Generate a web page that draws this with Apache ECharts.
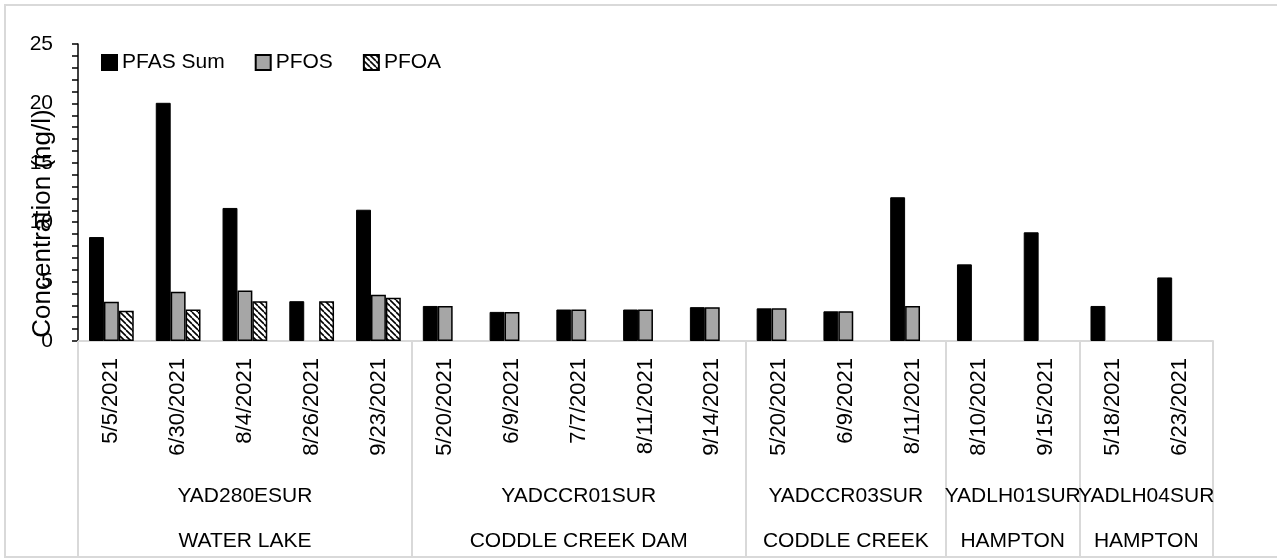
<!DOCTYPE html>
<html>
<head>
<meta charset="utf-8">
<script src="https://cdn.jsdelivr.net/npm/echarts@6/dist/echarts.min.js"></script>
<style>
  html, body { margin: 0; padding: 0; background: #fff; overflow: hidden; }
  #wrap { position: relative; width: 1277px; height: 558px; }
  #chart { position: absolute; left: 0; top: 0; width: 1277px; height: 558px; }
  #frame { position: absolute; left: 4px; top: 4px; width: 1300px; height: 550px; border: 2px solid #d9d9d9; pointer-events: none; }
</style>
</head>
<body>
<div id="wrap"><div id="chart"></div><div id="frame"></div></div>
<script>
// ---- data ----
const dates = ['5/5/2021','6/30/2021','8/4/2021','8/26/2021','9/23/2021',
               '5/20/2021','6/9/2021','7/7/2021','8/11/2021','9/14/2021',
               '5/20/2021','6/9/2021','8/11/2021',
               '8/10/2021','9/15/2021',
               '5/18/2021','6/23/2021'];
const sites = ['YAD280ESUR','YADCCR01SUR','YADCCR03SUR','YADLH01SUR','YADLH04SUR'];
const siteCounts = [5, 5, 3, 2, 2];
const locations = ['WATER LAKE','CODDLE CREEK DAM','CODDLE CREEK','HAMPTON','HAMPTON'];
const pfasSum = [8.75, 20.05, 11.2, 3.35, 11.05, 2.95, 2.45, 2.65, 2.65, 2.85, 2.75, 2.5, 12.1, 6.45, 9.15, 2.95, 5.35];
const pfos    = [3.3, 4.15, 4.25, null, 3.9, 2.95, 2.45, 2.65, 2.65, 2.85, 2.75, 2.5, 2.95, null, null, null, null];
const pfoa    = [2.55, 2.65, 3.35, 3.35, 3.65, null, null, null, null, null, null, null, null, null, null, null, null];
const yTicks = { min: 0, max: 25, interval: 5 };

// ---- derived group positions ----
const boundaries = [0];
siteCounts.forEach(c => boundaries.push(boundaries[boundaries.length - 1] + c));
const centers = siteCounts.map((c, i) => boundaries[i] + c / 2);
function nameAt(list, v) {
  const i = centers.findIndex(c => Math.abs(c - v) < 1e-6);
  return i >= 0 ? list[i] : '';
}
// split centers into alternating sets so adjacent labels never compete
const centersEven = centers.filter((c, i) => i % 2 === 0);
const centersOdd = centers.filter((c, i) => i % 2 === 1);

// ---- hatch pattern ----
const pc = document.createElement('canvas');
pc.width = 6; pc.height = 6;
const g = pc.getContext('2d');
g.fillStyle = '#fff'; g.fillRect(0, 0, 6, 6);
g.strokeStyle = '#000'; g.lineWidth = 1.6;
[-6, 0, 6].forEach(k => { g.beginPath(); g.moveTo(k, 0); g.lineTo(k + 6, 6); g.stroke(); });

const chart = echarts.init(document.getElementById('chart'), null, { renderer: 'canvas' });
const mainFont = "'Liberation Sans', Arial, sans-serif";

function groupAxis(list, vals, margin, withTicks) {
  return {
    type: 'value', gridIndex: 0, position: 'bottom', min: 0, max: dates.length,
    axisLine: { show: false }, splitLine: { show: false },
    axisTick: withTicks
      ? { show: true, customValues: boundaries, length: 215, inside: false, lineStyle: { color: '#d9d9d9', width: 2 } }
      : { show: false },
    axisLabel: { show: true, customValues: vals, margin: margin, hideOverlap: false, fontSize: 21,
      fontFamily: mainFont, color: '#000', formatter: v => nameAt(list, v) }
  };
}

chart.setOption({
  animation: false,
  textStyle: { fontFamily: mainFont, color: '#000' },
  grid: { left: 78, right: 64, top: 44, bottom: 217, containLabel: false, outerBoundsMode: 'none' },
  legend: {
    left: 96, top: 47, itemWidth: 15, itemHeight: 15, itemGap: 30,
    icon: 'rect',
    textStyle: { fontSize: 21, color: '#000', fontFamily: mainFont },
    data: ['PFAS Sum', 'PFOS', 'PFOA']
  },
  xAxis: [
    {
      type: 'category', data: dates, position: 'bottom',
      axisLine: { show: true, lineStyle: { color: '#d9d9d9', width: 2 } },
      axisTick: { show: false },
      axisLabel: { rotate: 90, interval: 0, margin: 17, fontSize: 22, fontFamily: mainFont, color: '#000' }
    },
    groupAxis(sites, centersEven, 145, true),
    groupAxis(sites, centersOdd, 145, false),
    groupAxis(locations, centersEven, 190, false),
    groupAxis(locations, centersOdd, 190, false)
  ],
  yAxis: {
    type: 'value', min: yTicks.min, max: yTicks.max, interval: yTicks.interval,
    name: 'Concentration (ng/l)', nameLocation: 'middle', nameGap: 22, nameMoveOverlap: false,
    nameTextStyle: { fontSize: 26, color: '#000', fontFamily: mainFont, padding: [0, 62, 0, 0] },
    axisLine: { show: true, lineStyle: { color: '#000', width: 1.5 } },
    axisTick: { show: true, length: 6, lineStyle: { color: '#000', width: 1.5 } },
    minorTick: { show: true, splitNumber: 5, length: 6, lineStyle: { color: '#000', width: 1.5 } },
    splitLine: { show: false },
    axisLabel: { fontSize: 21, margin: 25, color: '#000', fontFamily: mainFont }
  },
  series: [
    { name: 'PFAS Sum', type: 'bar', data: pfasSum, barGap: '0%', barCategoryGap: '33%',
      itemStyle: { color: '#000', borderColor: '#000', borderWidth: 1 } },
    { name: 'PFOS', type: 'bar', data: pfos, barGap: '0%', barCategoryGap: '33%',
      itemStyle: { color: '#a6a6a6', borderColor: '#000', borderWidth: 1.5 } },
    { name: 'PFOA', type: 'bar', data: pfoa, barGap: '0%', barCategoryGap: '33%',
      itemStyle: { color: { image: pc, repeat: 'repeat' }, borderColor: '#000', borderWidth: 1.5 } }
  ]
});
</script>
</body>
</html>
